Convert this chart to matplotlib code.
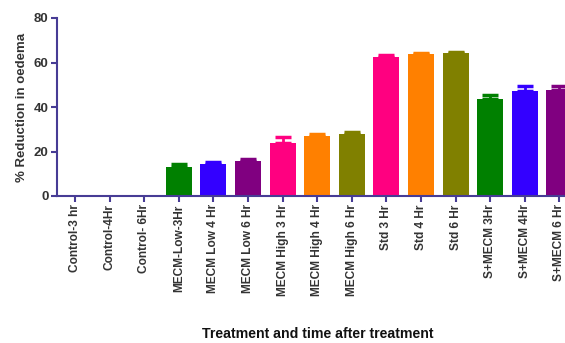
import matplotlib
matplotlib.use("Agg")
import matplotlib.pyplot as plt
import numpy as np

categories = ["Control-3 hr", "Control-4Hr", "Control- 6Hr",
              "MECM-Low-3Hr", "MECM Low 4 Hr", "MECM Low 6 Hr",
              "MECM High 3 Hr", "MECM High 4 Hr", "MECM High 6 Hr",
              "Std 3 Hr", "Std 4 Hr", "Std 6 Hr",
              "S+MECM 3Hr", "S+MECM 4Hr", "S+MECM 6 Hr"]
values = [0, 0, 0, 12.9, 14.2, 15.7, 24.0, 27.0, 28.0, 62.3, 63.7, 64.1, 43.7, 47.3, 47.6]
errors = [0, 0, 0, 1.3, 0.9, 1.1, 2.5, 0.9, 0.8, 1.2, 0.7, 0.8, 1.5, 2.1, 1.8]
colors = ["#ffffff", "#ffffff", "#ffffff", "#008000", "#3300ff", "#800080",
          "#ff0080", "#ff8000", "#808000", "#ff0080", "#ff8000", "#808000",
          "#008000", "#3300ff", "#800080"]

W, H = 565, 343
fig = plt.figure(figsize=(W / 100, H / 100), dpi=100)
left, right = 57 / W, 1.0
top, bottom = 1 - 18 / H, 1 - 196 / H
ax = fig.add_axes([left, bottom, right - left, top - bottom])

x = np.arange(len(categories))
for i in range(len(categories)):
    if values[i] > 0:
        ax.bar(x[i], values[i], width=0.75, color=colors[i], zorder=2)
        ax.errorbar(x[i], values[i], yerr=[[0], [errors[i]]], fmt="none",
                    ecolor=colors[i], elinewidth=2, capsize=6, capthick=2.5, zorder=3)

ax.set_xlim(-0.52, 14.16)
ax.set_ylim(0, 80)
ax.set_yticks([0, 20, 40, 60, 80])
ax.set_xticks(x)
ax.set_xticklabels(categories, rotation=90, fontsize=8.6, fontweight="bold",
                   family="Liberation Sans", color="#333333")
for lab in ax.get_yticklabels():
    lab.set_fontsize(9.5)
    lab.set_fontweight("bold")
    lab.set_family("Liberation Sans")
    lab.set_color("#333333")

axis_color = "#473c95"
for s in ["top", "right"]:
    ax.spines[s].set_visible(False)
for s in ["left", "bottom"]:
    ax.spines[s].set_color(axis_color)
    ax.spines[s].set_linewidth(1.5)
ax.tick_params(axis="both", colors=axis_color, width=1.5, length=4, direction="out")
ax.tick_params(axis="x", labelcolor="#333333", pad=2)
ax.tick_params(axis="y", labelcolor="#333333", pad=2)

ax.set_ylabel("% Reduction in oedema", fontsize=9.5, fontweight="bold",
              family="Liberation Sans", color="#333333", labelpad=4)
fig.text(318 / W, 1 - 334 / H, "Treatment and time after treatment", ha="center", va="center",
         fontsize=10.2, fontweight="bold", family="Liberation Sans", color="#111111")

fig.savefig("out.png", dpi=100)
